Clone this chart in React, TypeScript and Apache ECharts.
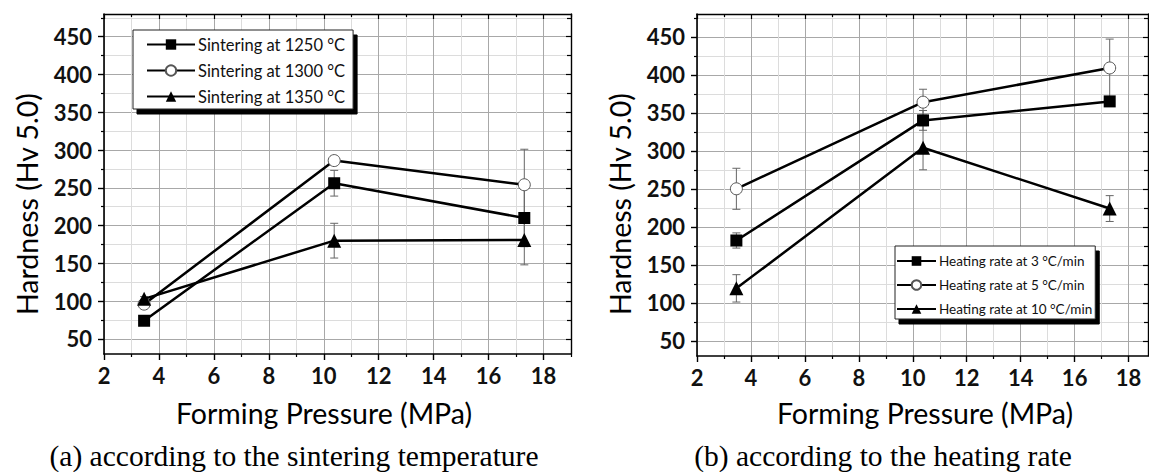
import React, { useEffect, useRef } from 'react';
import * as echarts from 'echarts';

// ---- data ----
const PRESSURE = [3.46, 10.38, 17.3];
const X_TICKS = [2, 4, 6, 8, 10, 12, 14, 16, 18];
const X_MINOR = [3, 5, 7, 9, 11, 13, 15, 17, 19];
const Y_TICKS = [50, 100, 150, 200, 250, 300, 350, 400, 450];
const Y_MINOR = [75, 125, 175, 225, 275, 325, 375, 425, 475];

const SINTER_NAMES = ['Sintering at 1250 °C', 'Sintering at 1300 °C', 'Sintering at 1350 °C'];
const SINTER_1250 = [74, 256, 210];
const SINTER_1300 = [96, 286, 254];
const SINTER_1350 = [103, 180, 181];
const SINTER_1250_ERR = [4, 17, 38];
const SINTER_1300_ERR = [4, 5, 47];
const SINTER_1350_ERR = [3, 23, 33];

const RATE_NAMES = ['Heating rate at 3 °C/min', 'Heating rate at 5 °C/min', 'Heating rate at 10 °C/min'];
const RATE_3 = [182, 340, 365];
const RATE_5 = [250, 364, 409];
const RATE_10 = [119, 304, 224];
const RATE_3_ERR = [10, 13, 4];
const RATE_5_ERR = [27, 17, 38];
const RATE_10_ERR = [18, 29, 17];

const Y_TITLE = 'Hardness (Hv 5.0)';
const X_TITLE = 'Forming Pressure (MPa)';
const CAPTION_A = '(a) according to the sintering temperature';
const CAPTION_B = '(b) according to the heating rate';

const SANS = 'Lato';
const SERIF = 'Liberation Serif';

function xAxesFor(grid: number, max: number) {
  const base = {
    gridIndex: grid, type: 'value', min: 2, max,
    axisLabel: { show: false }, axisLine: { show: false, onZero: false },
    splitLine: { show: false }, axisTick: { show: false },
  };
  return [
    { ...base, position: 'bottom',
      axisTick: { show: true, customValues: X_MINOR, length: 3, lineStyle: { color: '#000', width: 1.2 } },
      splitLine: { show: true, lineStyle: { color: '#dcdcdc', width: 1 } } },
    { ...base, position: 'bottom',
      axisLine: { show: true, onZero: false, lineStyle: { color: '#000', width: 1.6 } },
      axisTick: { show: true, customValues: X_TICKS, length: 6, lineStyle: { color: '#000', width: 1.4 } },
      axisLabel: { show: true, customValues: X_TICKS, margin: 10, fontFamily: SANS, fontWeight: 'bold', fontSize: 22, color: '#111' },
      splitLine: { show: true, lineStyle: { color: '#a8a8a8', width: 1 } } },
    { ...base, position: 'top',
      axisLine: { show: true, onZero: false, lineStyle: { color: '#000', width: 1.4 } },
      axisTick: { show: true, inside: true, customValues: X_TICKS, length: 5, lineStyle: { color: '#000', width: 1.2 } } },
    { ...base, position: 'top',
      axisTick: { show: true, inside: true, customValues: X_MINOR, length: 3, lineStyle: { color: '#000', width: 1.2 } } },
  ];
}

function yAxesFor(grid: number) {
  const base = {
    gridIndex: grid, type: 'value', min: 30, max: 480,
    axisLabel: { show: false }, axisLine: { show: false, onZero: false },
    splitLine: { show: false }, axisTick: { show: false },
  };
  return [
    { ...base, position: 'left',
      axisTick: { show: true, customValues: Y_MINOR, length: 3, lineStyle: { color: '#000', width: 1.2 } },
      splitLine: { show: true, lineStyle: { color: '#dcdcdc', width: 1 } } },
    { ...base, position: 'left',
      axisLine: { show: true, onZero: false, lineStyle: { color: '#000', width: 1.6 } },
      axisTick: { show: true, customValues: Y_TICKS, length: 6, lineStyle: { color: '#000', width: 1.4 } },
      axisLabel: { show: true, customValues: Y_TICKS, margin: 12, fontFamily: SANS, fontWeight: 'bold', fontSize: 22, color: '#111' },
      splitLine: { show: true, lineStyle: { color: '#a8a8a8', width: 1 } } },
    { ...base, position: 'right',
      axisLine: { show: true, onZero: false, lineStyle: { color: '#000', width: 1.4 } },
      axisTick: { show: true, inside: true, customValues: Y_TICKS, length: 5, lineStyle: { color: '#000', width: 1.2 } } },
    { ...base, position: 'right',
      axisTick: { show: true, inside: true, customValues: Y_MINOR, length: 4, lineStyle: { color: '#000', width: 1.2 } } },
  ];
}

const MARKERS = [
  { symbol: 'rect', symbolSize: 12, itemStyle: { color: '#000' } },
  { symbol: 'circle', symbolSize: 12, itemStyle: { color: '#fff', borderColor: '#555', borderWidth: 1 } },
  { symbol: 'triangle', symbolSize: 14, itemStyle: { color: '#000' } },
];

function lineSeries(name: string, xi: number, yi: number, vals: number[], k: number) {
  return {
    type: 'line', name, xAxisIndex: xi, yAxisIndex: yi,
    data: PRESSURE.map((x, i) => [x, vals[i]]),
    ...MARKERS[k],
    showSymbol: true,
    lineStyle: { color: '#000', width: 2.5 },
    z: 3, silent: true,
  };
}

function errSeries(xi: number, yi: number, vals: number[], errs: number[]) {
  return {
    type: 'custom', xAxisIndex: xi, yAxisIndex: yi, silent: true, z: 2,
    data: PRESSURE.map((x, i) => [x, vals[i] - errs[i], vals[i] + errs[i]]),
    encode: { x: 0, y: [1, 2] },
    renderItem: (params: any, api: any) => {
      const lo = api.coord([api.value(0), api.value(1)]);
      const hi = api.coord([api.value(0), api.value(2)]);
      const w = 4;
      const st = { stroke: '#666', lineWidth: 1 };
      return {
        type: 'group',
        children: [
          { type: 'line', shape: { x1: lo[0], y1: lo[1], x2: hi[0], y2: hi[1] }, style: st },
          { type: 'line', shape: { x1: lo[0] - w, y1: lo[1], x2: lo[0] + w, y2: lo[1] }, style: st },
          { type: 'line', shape: { x1: hi[0] - w, y1: hi[1], x2: hi[0] + w, y2: hi[1] }, style: st },
        ],
      };
    },
  };
}

function legendFor(names: string[], left: number, top: number, fontSize: number, itemWidth: number, itemHeight: number, itemGap: number, padding: number[]) {
  return {
    data: names, orient: 'vertical', left, top,
    itemWidth, itemHeight, itemGap, padding,
    backgroundColor: '#fff', borderColor: '#222', borderWidth: 1,
    shadowColor: '#000', shadowBlur: 0, shadowOffsetX: 4, shadowOffsetY: 5,
    textStyle: { fontFamily: SANS, fontSize, color: '#111', padding: [0, 0, 0, -2] },
    selectedMode: false,
  };
}

function textEl(text: string, x: number, y: number, font: string, size: number, rotate = 0) {
  return {
    type: 'text', x, y, rotation: rotate,
    style: { text, fill: '#000', font: `${size}px ${font}`, textAlign: 'center', textVerticalAlign: 'middle' },
  };
}

export default function App() {
  const ref = useRef<HTMLDivElement>(null);
  useEffect(() => {
    if (!ref.current) return;
    const chart = echarts.init(ref.current, undefined, { renderer: 'svg' });
    // left chart axes: x 0..3, y 0..3 ; right chart axes: x 4..7, y 4..7 ; data axis index 1 / 5
    const option: any = {
      animation: false,
      backgroundColor: '#fff',
      grid: [
        { left: 104, top: 14, width: 467, height: 340 },
        { left: 697, top: 14, width: 451, height: 342 },
      ],
      xAxis: [...xAxesFor(0, 19), ...xAxesFor(1, 18.72)],
      yAxis: [...yAxesFor(0), ...yAxesFor(1)],
      legend: [
        legendFor(SINTER_NAMES, 133, 30, 16.5, 48, 13, 9, [6, 8, 4, 13]),
        legendFor(RATE_NAMES, 895, 246, 13.5, 39, 12, 10, [8, 3, 3, 1]),
      ],
      series: [
        errSeries(1, 1, SINTER_1250, SINTER_1250_ERR),
        errSeries(1, 1, SINTER_1300, SINTER_1300_ERR),
        errSeries(1, 1, SINTER_1350, SINTER_1350_ERR),
        lineSeries(SINTER_NAMES[0], 1, 1, SINTER_1250, 0),
        lineSeries(SINTER_NAMES[1], 1, 1, SINTER_1300, 1),
        lineSeries(SINTER_NAMES[2], 1, 1, SINTER_1350, 2),
        errSeries(5, 5, RATE_3, RATE_3_ERR),
        errSeries(5, 5, RATE_5, RATE_5_ERR),
        errSeries(5, 5, RATE_10, RATE_10_ERR),
        lineSeries(RATE_NAMES[0], 5, 5, RATE_3, 0),
        lineSeries(RATE_NAMES[1], 5, 5, RATE_5, 1),
        lineSeries(RATE_NAMES[2], 5, 5, RATE_10, 2),
      ],
      graphic: [
        textEl(Y_TITLE, 27, 204, SANS, 28.5, Math.PI / 2),
        textEl(Y_TITLE, 620, 204, SANS, 28.5, Math.PI / 2),
        textEl(X_TITLE, 324, 413, SANS, 28.5),
        textEl(X_TITLE, 925, 413, SANS, 28.5),
        textEl(CAPTION_A, 294, 456, SERIF, 29.5),
        textEl(CAPTION_B, 883, 456, SERIF, 29.5),
      ],
    };
    chart.setOption(option);
    return () => chart.dispose();
  }, []);
  return (
    <div ref={ref} style={{ position: 'fixed', left: 0, top: 0, width: 1149, height: 472, background: '#fff' }} />
  );
}
